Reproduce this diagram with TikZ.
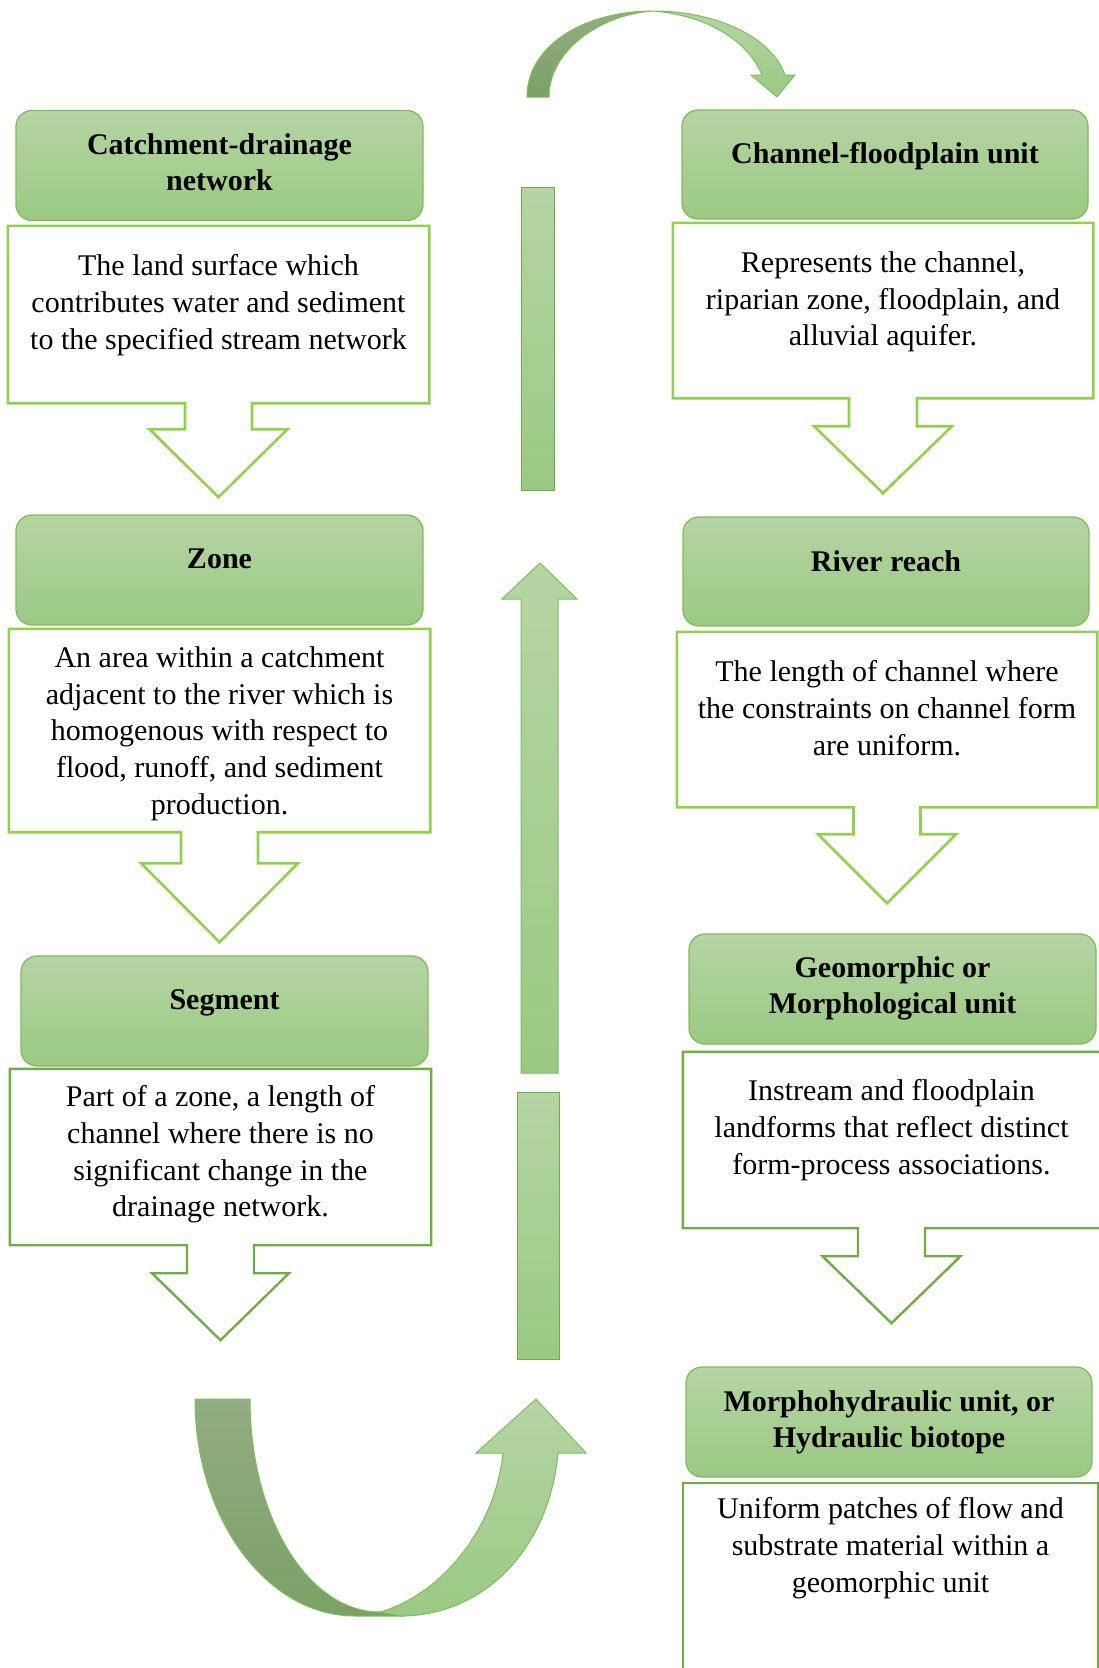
\documentclass[tikz,border=0pt]{standalone}
\usepackage{fontspec}
\setmainfont{Liberation Serif}
\usepackage{tikz}
\usetikzlibrary{positioning,calc}

\definecolor{hdrtop}{HTML}{B5D5A4}
\definecolor{hdrbot}{HTML}{9BC983}
\definecolor{hdrline}{HTML}{82BC5E}
\definecolor{lime}{HTML}{92D050}
\definecolor{leaf}{HTML}{70AD47}
\definecolor{olivetop}{HTML}{93AC82}
\definecolor{olivebot}{HTML}{7AA166}

% down-arrow callout drawn round a body node
\newcommand{\callout}[6]{%
  \draw[#2] (#1.north west) -- (#1.north east) -- (#1.south east)
    -- ($(#1.south)+(#3,0)$) -- ($(#1.south)+(#3,#4)$)
    -- ($(#1.south)+(#5,#4)$) -- ($(#1.south)+(0,{#4+#6})$)
    -- ($(#1.south)+(-#5,#4)$) -- ($(#1.south)+(-#3,#4)$)
    -- ($(#1.south)+(-#3,0)$) -- (#1.south west) -- cycle;}

\begin{document}
\begin{tikzpicture}[x=1pt,y=-1pt,
  hdr/.style={draw=hdrline,line width=1.3pt,rounded corners=16pt,
              top color=hdrtop,bottom color=hdrbot,
              minimum width=407pt,minimum height=110pt},
  hdrtxt/.style={align=center,inner sep=0pt,
                 font=\fontsize{30}{36}\selectfont\bfseries},
  body/.style={rectangle,inner sep=0pt},
  bodytxt/.style={align=center,inner sep=0pt,
                  font=\fontsize{30}{36.7}\selectfont},
  brightline/.style={draw=lime,line width=2.6pt,fill=white},
  darkline/.style={draw=leaf,line width=2.4pt,fill=white},
  bar/.style={draw=leaf,line width=1pt,top color=hdrtop,bottom color=hdrbot,
              inner sep=0pt},
  lightband/.style={draw=hdrline,line width=1pt,top color=hdrtop,bottom color=hdrbot},
  darkband/.style={draw=hdrline,line width=1pt,top color=olivetop,bottom color=olivebot},
]
\clip (0,0) rectangle (1099,1668);

% left column
\node[hdr] (hCatch) at (219.5,165.5) {};
\node[hdrtxt,below=24pt of hCatch.north] (tCatch) {Catchment-drainage\\network};
\node[body,minimum width=421pt,minimum height=177pt] (bCatch) at (218.5,314.5) {};
\callout{bCatch}{brightline}{33.5}{26}{69}{68}
\node[bodytxt,below=28.5pt of bCatch.north] (sCatch)
  {The land surface which\\contributes water and sediment\\to the specified stream network};

\node[hdr] (hZone) at (219.5,570) {};
\node[hdrtxt,below=34pt of hZone.north] (tZone) {Zone};
\node[body,minimum width=421pt,minimum height=203pt] (bZone) at (219.5,730.5) {};
\callout{bZone}{brightline}{38.5}{31}{78.5}{79}
\node[bodytxt,below=17.5pt of bZone.north] (sZone)
  {An area within a catchment\\adjacent to the river which is\\homogenous with respect to\\flood, runoff, and sediment\\production.};

\node[hdr] (hSeg) at (224.5,1011) {};
\node[hdrtxt,below=34pt of hSeg.north] (tSeg) {Segment};
\node[body,minimum width=421pt,minimum height=176pt] (bSeg) at (220.5,1157) {};
\callout{bSeg}{darkline}{33.5}{28}{68.5}{67}
\node[bodytxt,below=16.5pt of bSeg.north] (sSeg)
  {Part of a zone, a length of\\channel where there is no\\significant change in the\\drainage network.};

% right column
\node[hdr,minimum width=406pt,minimum height=109pt] (hChan) at (885,164.5) {};
\node[hdrtxt,below=33pt of hChan.north] (tChan) {Channel-floodplain unit};
\node[body,minimum width=420pt,minimum height=175pt] (bChan) at (883,310.5) {};
\callout{bChan}{brightline}{34}{28}{69}{67}
\node[bodytxt,below=28.5pt of bChan.north] (sChan)
  {Represents the channel,\\riparian zone, floodplain, and\\alluvial aquifer.};

\node[hdr,minimum width=406pt,minimum height=109pt] (hReach) at (886,571.5) {};
\node[hdrtxt,below=34pt of hReach.north] (tReach) {River reach};
\node[body,minimum width=420pt,minimum height=175pt] (bReach) at (887,719.5) {};
\callout{bReach}{brightline}{33.5}{27}{69}{69}
\node[bodytxt,below=28.5pt of bReach.north] (sReach)
  {The length of channel where\\the constraints on channel form\\are uniform.};

\node[hdr] (hGeo) at (892.5,989) {};
\node[hdrtxt,below=23pt of hGeo.north] (tGeo) {Geomorphic or\\Morphological unit};
\node[body,minimum width=417pt,minimum height=176pt] (bGeo) at (891.5,1140) {};
\callout{bGeo}{darkline}{33.5}{28}{69}{67}
\node[bodytxt,below=27.5pt of bGeo.north] (sGeo)
  {Instream and floodplain\\landforms that reflect distinct\\form-process associations.};

\node[hdr,minimum width=406pt] (hMorph) at (889,1422) {};
\node[hdrtxt,below=24pt of hMorph.north] (tMorph) {Morphohydraulic unit, or\\Hydraulic biotope};
\node[body,minimum width=415pt,minimum height=217pt] (bMorph) at (890.5,1591.5) {};
\draw[darkline] (bMorph.north west) rectangle (bMorph.south east);
\node[bodytxt,below=14.5pt of bMorph.north] (sMorph)
  {Uniform patches of flow and\\substrate material within a\\geomorphic unit};

% middle: bars and arrows going back up
\node[bar,minimum width=33pt,minimum height=303pt] (barTop) at (537.5,338.5) {};
\draw[lightband] (521,1073) -- (521,599) -- (502,599) -- (540,563)
  -- (577,599) -- (558,599) -- (558,1073) -- cycle;
\node[bar,minimum width=42pt,minimum height=267pt] (barLow) at (538,1225.5) {};

% bottom turn
\draw[darkband] (195,1399) -- (250,1399) .. controls (250,1517) and (308,1612) .. (380,1612)
  -- (405,1616) -- (355,1616) .. controls (267,1616) and (195,1519) .. (195,1399) -- cycle;
\draw[lightband] (380,1612) .. controls (440,1595) and (495,1530) .. (503,1453)
  -- (476,1453) -- (536,1399) -- (586,1453) -- (558,1453)
  .. controls (550,1545) and (487,1616) .. (400,1616) -- cycle;

% top turn
\draw[darkband] (527,97) .. controls (527,45) and (585,11) .. (653,11)
  .. controls (598,15) and (549,52) .. (549,97) -- cycle;
\draw[lightband] (653,11) .. controls (718,11) and (772,38) .. (785,75)
  -- (795,75) -- (777,97) -- (751,75) -- (762,75)
  .. controls (748,40) and (705,15) .. (653,11) -- cycle;
\end{tikzpicture}
\end{document}
